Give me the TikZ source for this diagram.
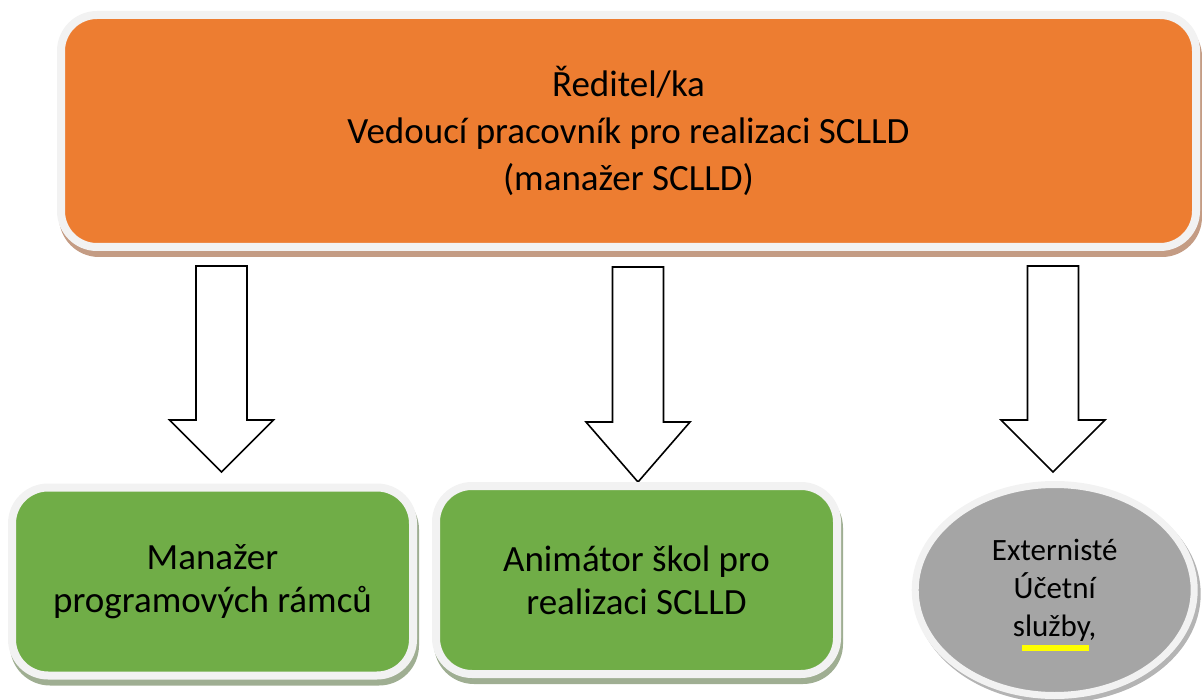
\documentclass[tikz,border=0pt]{standalone}
\usepackage{fontspec}
\setmainfont{Carlito}
\usetikzlibrary{shapes.geometric,shadows}
\definecolor{orangefill}{HTML}{ED7D31}
\definecolor{greenfill}{HTML}{70AD47}
\definecolor{greyfill}{HTML}{A5A5A5}
\definecolor{rimcol}{HTML}{F2F2F2}
\definecolor{shorange}{HTML}{C49C84}
\definecolor{shgreen}{HTML}{9FAE92}
\definecolor{shgrey}{HTML}{B4B4B4}
\definecolor{hlyellow}{HTML}{FFFF00}
\tikzset{
  rimbox/.style={draw=rimcol, line width=8pt, rounded corners=36pt, inner sep=0pt, align=center, text=black},
  topbox/.style={rimbox, fill=orangefill, minimum width=1135pt, minimum height=232pt,
    drop shadow={shadow xshift=2pt, shadow yshift=-6pt, opacity=1, fill=shorange, draw=shorange, line width=8pt},
    font=\fontsize{37}{47}\selectfont},
  greenbox/.style={rimbox, fill=greenfill, minimum width=401pt, minimum height=188pt,
    drop shadow={shadow xshift=2pt, shadow yshift=-6pt, opacity=1, fill=shgreen, draw=shgreen, line width=8pt},
    font=\fontsize{37}{43}\selectfont},
  ovalbox/.style={ellipse, draw=rimcol, line width=7pt, fill=greyfill, inner sep=0pt, align=center,
    minimum width=279pt, minimum height=211pt,
    drop shadow={shadow xshift=3pt, shadow yshift=-4pt, opacity=1, fill=shgrey, draw=shgrey, line width=7pt},
    font=\fontsize{31}{38}\selectfont},
  arrowshape/.style={draw=black, fill=white, line width=1.6pt, line join=miter}
}
\newcommand\bigdownarrow[4]{%
  \draw[arrowshape] (#1-25.5,#2) -- (#1+25.5,#2) -- (#1+25.5,#3) -- (#1+52,#3)
    -- (#1,#4) -- (#1-52,#3) -- (#1-25.5,#3) -- cycle;}
\begin{document}
\begin{tikzpicture}[x=1pt,y=-1pt]
\useasboundingbox (0,0) rectangle (1202,700);
\node[topbox] (dir) at (628.5,131) {Ředitel/ka\\Vedoucí pracovník pro realizaci SCLLD\\(manažer SCLLD)};
\bigdownarrow{221.5}{266}{420}{472}
\bigdownarrow{638}{267}{422}{482}
\bigdownarrow{1053}{266}{420}{472}
\node[greenbox] (man) at (212.5,581.5) {Manažer\\programových rámců};
\node[greenbox] (anim) at (636.5,580) {Animátor škol pro\\realizaci SCLLD};
\node[ovalbox] (ext) at (1054.7,590) {Externisté\\Účetní\\služby,};
\fill[hlyellow] (1022,645) rectangle (1089,650.5);
\end{tikzpicture}
\end{document}
